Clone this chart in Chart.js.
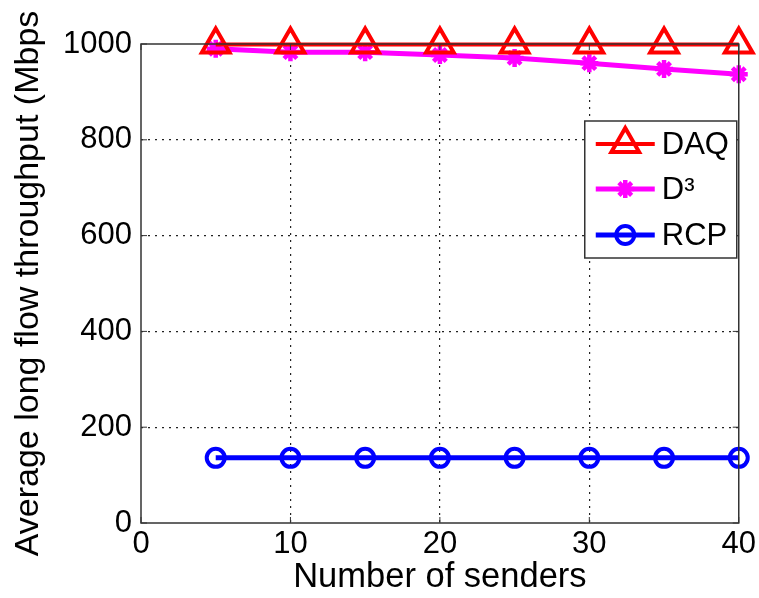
<!DOCTYPE html>
<html>
<head>
<meta charset="utf-8">
<script src="https://cdn.jsdelivr.net/npm/chart.js@4.4.1/dist/chart.umd.min.js"></script>
<style>
  html, body { margin: 0; padding: 0; background: #fff; }
  #wrap { width: 759px; height: 598px; }
</style>
</head>
<body>
<div id="wrap"><canvas id="chart" width="759" height="598"></canvas></div>
<script>
// Data
const senders = [5, 10, 15, 20, 25, 30, 35, 40];
const daq = [999, 999, 999, 999, 999, 999, 999, 999];
const d3 = [990, 983, 983, 977, 971, 960, 948, 937];
const rcp = [136, 136, 136, 136, 136, 136, 136, 136];
const xTicks = [0, 10, 20, 30, 40];
const yTicks = [0, 200, 400, 600, 800, 1000];

const FONT = 'Liberation Sans, Arial, Helvetica, sans-serif';

const toPoints = (vals) => vals.map((v, i) => ({ x: senders[i], y: v }));

// MATLAB style frame: solid box + inward tick marks
const framePlugin = {
  id: 'frame',
  afterDatasetsDraw(chart) {
    const { ctx, chartArea: a, scales } = chart;
    ctx.save();
    ctx.strokeStyle = '#333';
    ctx.lineWidth = 1.5;
    ctx.strokeRect(a.left, a.top, a.right - a.left, a.bottom - a.top);
    ctx.lineWidth = 1;
    const len = 6;
    xTicks.forEach(v => {
      const px = scales.x.getPixelForValue(v);
      ctx.beginPath();
      ctx.moveTo(px, a.bottom); ctx.lineTo(px, a.bottom - len);
      ctx.moveTo(px, a.top); ctx.lineTo(px, a.top + len);
      ctx.stroke();
    });
    yTicks.forEach(v => {
      const py = scales.y.getPixelForValue(v);
      ctx.beginPath();
      ctx.moveTo(a.left, py); ctx.lineTo(a.left + len, py);
      ctx.moveTo(a.right, py); ctx.lineTo(a.right - len, py);
      ctx.stroke();
    });
    ctx.restore();
  }
};

// Legend box inside the plot, upper right
const boxLegend = {
  id: 'boxLegend',
  afterDraw(chart) {
    const { ctx, chartArea: a } = chart;
    const w = 152, h = 137;
    const left = a.right - w - 2, top = a.top + 77;
    ctx.save();
    ctx.fillStyle = '#fff';
    ctx.fillRect(left, top, w, h);
    ctx.strokeStyle = '#333';
    ctx.lineWidth = 1.5;
    ctx.strokeRect(left, top, w, h);
    const rows = [23, 68, 114];
    chart.data.datasets.forEach((ds, i) => {
      const y = top + rows[i];
      const x0 = left + 11, x1 = left + 70, xc = (x0 + x1) / 2;
      ctx.strokeStyle = ds.borderColor;
      ctx.lineWidth = ds.borderWidth;
      ctx.beginPath(); ctx.moveTo(x0, y); ctx.lineTo(x1, y); ctx.stroke();
      ctx.lineWidth = ds.pointBorderWidth;
      ctx.fillStyle = ds.pointBackgroundColor;
      Chart.helpers.drawPoint(ctx, {
        pointStyle: ds.pointStyle,
        radius: ds.pointRadius,
        borderWidth: ds.pointBorderWidth
      }, xc, y);
      ctx.fillStyle = '#000';
      ctx.font = '31px ' + FONT;
      ctx.textBaseline = 'middle';
      ctx.fillText(ds.label, left + 77, y + 1);
    });
    ctx.restore();
  }
};

const gridColor = (edgeA, edgeB) => (c) =>
  (c.tick && (c.tick.value === edgeA || c.tick.value === edgeB)) ? 'rgba(0,0,0,0)' : '#222';

new Chart(document.getElementById('chart'), {
  type: 'line',
  data: {
    datasets: [
      {
        label: 'DAQ', data: toPoints(daq),
        borderColor: '#ff0000', backgroundColor: '#fff', borderWidth: 4,
        pointStyle: 'triangle', pointRadius: 16, pointBorderWidth: 4,
        pointBackgroundColor: 'rgba(0,0,0,0)', pointBorderColor: '#ff0000'
      },
      {
        label: 'D³', data: toPoints(d3),
        borderColor: '#ff00ff', backgroundColor: '#fff', borderWidth: 5,
        pointStyle: 'star', pointRadius: 9, pointBorderWidth: 4.5,
        pointBackgroundColor: '#ff00ff', pointBorderColor: '#ff00ff'
      },
      {
        label: 'RCP', data: toPoints(rcp),
        borderColor: '#0000ff', backgroundColor: '#fff', borderWidth: 5,
        pointStyle: 'circle', pointRadius: 9, pointBorderWidth: 4,
        pointBackgroundColor: 'rgba(0,0,0,0)', pointBorderColor: '#0000ff'
      }
    ]
  },
  options: {
    responsive: false,
    animation: false,
    clip: false,
    layout: { padding: { top: 44, right: 20, left: 0, bottom: 0 } },
    plugins: { legend: { display: false }, tooltip: { enabled: false } },
    scales: {
      x: {
        type: 'linear', min: 0, max: 40,
        afterBuildTicks: (s) => { s.ticks = xTicks.map(v => ({ value: v })); },
        afterFit: (s) => { s.height = 75; },
        border: { display: false, dash: [2, 5] },
        grid: { drawTicks: false, color: gridColor(0, 40), lineWidth: 1.2 },
        ticks: {
          color: '#000', padding: 3, font: { family: FONT, size: 31 }, maxRotation: 0,
          callback: (v) => String(v)
        },
        title: {
          display: true, text: 'Number of senders', color: '#000',
          font: { family: FONT, size: 34.5 }, padding: { top: -5, bottom: 0 }
        }
      },
      y: {
        type: 'linear', min: 0, max: 1000,
        afterBuildTicks: (s) => { s.ticks = yTicks.map(v => ({ value: v })); },
        afterFit: (s) => { s.width = 141; },
        border: { display: false, dash: [2, 5] },
        grid: { drawTicks: false, color: gridColor(0, 1000), lineWidth: 1.2 },
        ticks: {
          color: '#000', padding: 9, font: { family: FONT, size: 31 },
          callback: (v) => String(v)
        },
        title: {
          display: true, text: 'Average long flow throughput (Mbps', color: '#000',
          font: { family: FONT, size: 34 }, padding: { top: 8, bottom: 0 }
        }
      }
    },
    elements: { line: { tension: 0 } }
  },
  plugins: [framePlugin, boxLegend]
});
</script>
</body>
</html>
